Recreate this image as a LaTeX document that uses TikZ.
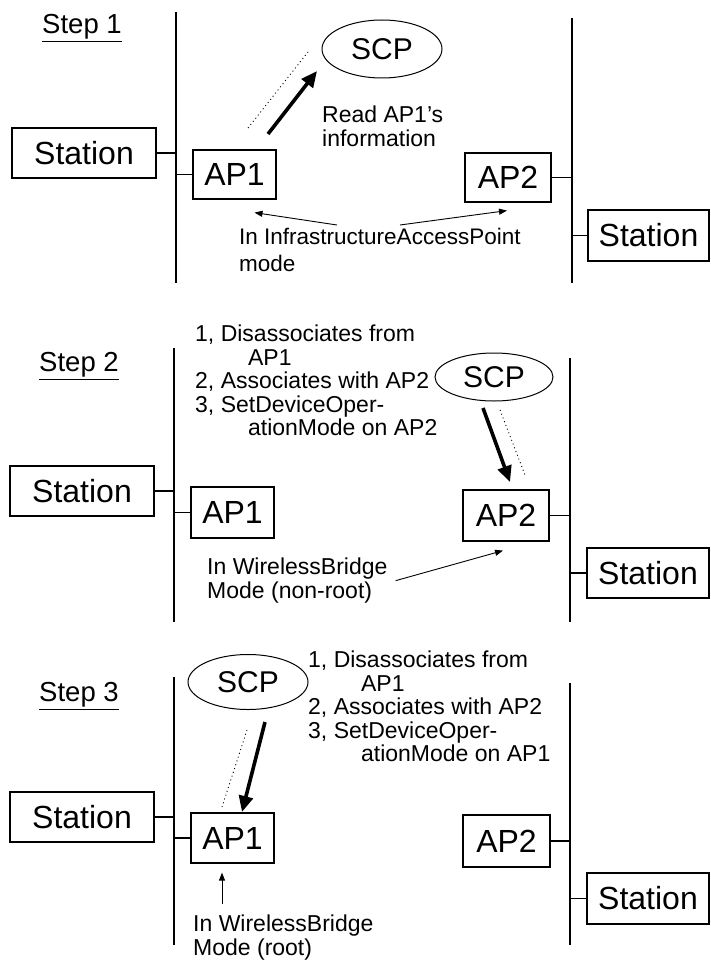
\documentclass[tikz,border=0pt]{standalone}
\usepackage{fontspec}
\setmainfont{Liberation Sans}
\usetikzlibrary{shapes.geometric,arrows.meta}

\tikzset{
  unit/.style={draw, line width=1.2pt, inner sep=0pt, font=\fontsize{32}{32}\selectfont},
  scp/.style={draw, ellipse, line width=1pt, inner sep=0pt, font=\fontsize{30}{30}\selectfont},
  note/.style={align=left, anchor=north west, inner sep=0pt, font=\fontsize{23}{23.5}\selectfont},
  steplabel/.style={inner sep=0pt, font=\fontsize{27.5}{27.5}\selectfont},
  bus/.style={line width=1.3pt},
  call/.style={-{Triangle[length=16pt,width=14pt]}, line width=3.6pt},
  trace/.style={line width=0.9pt, dash pattern=on 1pt off 3pt},
  pointer/.style={-{Triangle[length=8pt,width=6pt]}, line width=0.9pt}
}
\newcommand{\steptitle}[1]{\underline{#1}}

\begin{document}
\begin{tikzpicture}[x=1pt, y=-1pt]
  \useasboundingbox (0,0) rectangle (711,963);

  % Step 1
  \node[steplabel] (step1) at (82,28) {\steptitle{Step 1}};
  \draw[bus] (176,12) coordinate (busA1) -- (176,283);
  \draw[bus] (572,18) coordinate (busB1) -- (572,283);

  \node[unit, minimum width=144pt, minimum height=50pt] (sta1) at (84,153) {Station};
  \node[unit, minimum width=83pt, minimum height=49pt] (ap1a) at (234.5,174.5) {AP1};
  \node[unit, minimum width=86pt, minimum height=49pt] (ap2a) at (508,177.5) {AP2};
  \node[unit, minimum width=121pt, minimum height=51pt] (sta2a) at (648.5,235.5) {Station};
  \node[scp, minimum width=120pt, minimum height=58pt] (scp1) at (382,49) {SCP};

  \draw[bus] (sta1.east) -- (sta1.east -| busA1);
  \draw[bus] (ap1a.west) -- (ap1a.west -| busA1);
  \draw[bus] (ap2a.east) -- (ap2a.east -| busB1);
  \draw[bus] (sta2a.west) -- (sta2a.west -| busB1);

  \node[note] (read1) at (322,106) {Read AP1’s\\information};
  \node[note, font=\fontsize{22.5}{27}\selectfont] (mode1) at (239,228) {In InfrastructureAccessPoint\\mode};

  \coordinate (r1from) at (268,134);
  \coordinate (r1to) at (317,71);
  \draw[trace] (248,128) coordinate (t1from) -- (308,52) coordinate (t1to);
  \draw[call] (r1from) -- (r1to);
  \coordinate (m1L) at (337,225);
  \coordinate (m1R) at (400,225);
  \draw[pointer] (m1L) -- ([shift={(20,13)}]ap1a.south);
  \draw[pointer] (m1R) -- ([shift={(-1,8)}]ap2a.south);

  % Step 2
  \node[steplabel] (step2) at (79,366) {\steptitle{Step 2}};
  \draw[bus] (174,348) coordinate (busA2) -- (174,622);
  \draw[bus] (570,358) coordinate (busB2) -- (570,622);

  \node[unit, minimum width=144pt, minimum height=50pt] (sta2) at (82,491) {Station};
  \node[unit, minimum width=83pt, minimum height=51pt] (ap1b) at (232.5,512.5) {AP1};
  \node[unit, minimum width=86pt, minimum height=51pt] (ap2b) at (506,515.5) {AP2};
  \node[unit, minimum width=122pt, minimum height=50pt] (sta2b) at (648,573) {Station};
  \node[scp, minimum width=118pt, minimum height=48pt] (scp2) at (494,377) {SCP};

  \draw[bus] (sta2.east) -- (sta2.east -| busA2);
  \draw[bus] (ap1b.west) -- (ap1b.west -| busA2);
  \draw[bus] (ap2b.east) -- (ap2b.east -| busB2);
  \draw[bus] (sta2b.west) -- (sta2b.west -| busB2);

  \node[note] (todo2) at (195,325) {1, Disassociates from\\\hspace*{2.3em}AP1\\2, Associates with AP2\\3, SetDeviceOper-\\\hspace*{2.3em}ationMode on AP2};
  \node[note] (mode2) at (207,558) {In WirelessBridge\\Mode (non-root)};

  \draw[trace] (500,410) coordinate (t2from) -- (525,475) coordinate (t2to);
  \draw[call] (483,408) coordinate (r2from) -- (510,482) coordinate (r2to);
  \draw[pointer] ([xshift=8pt]mode2.east) -- ([shift={(-3,9)}]ap2b.south);

  % Step 3
  \node[steplabel] (step3) at (79,696) {\steptitle{Step 3}};
  \draw[bus] (174,677) coordinate (busA3) -- (174,945);
  \draw[bus] (570,683) coordinate (busB3) -- (570,945);

  \node[unit, minimum width=144pt, minimum height=50pt] (sta3) at (82,817) {Station};
  \node[unit, minimum width=83pt, minimum height=50pt] (ap1c) at (232.5,838) {AP1};
  \node[unit, minimum width=87pt, minimum height=52pt] (ap2c) at (506.5,841) {AP2};
  \node[unit, minimum width=122pt, minimum height=51pt] (sta3b) at (648,898.5) {Station};
  \node[scp, minimum width=120pt, minimum height=55pt] (scp3) at (248,682) {SCP};

  \draw[bus] (sta3.east) -- (sta3.east -| busA3);
  \draw[bus] (ap1c.west) -- (ap1c.west -| busA3);
  \draw[bus] (ap2c.east) -- (ap2c.east -| busB3);
  \draw[bus] (sta3b.west) -- (sta3b.west -| busB3);

  \node[note] (todo3) at (308,651) {1, Disassociates from\\\hspace*{2.3em}AP1\\2, Associates with AP2\\3, SetDeviceOper-\\\hspace*{2.3em}ationMode on AP1};
  \node[note] (mode3) at (193,915) {In WirelessBridge\\Mode (root)};

  \draw[trace] (247,730) coordinate (t3from) -- (222,807) coordinate (t3to);
  \draw[call] (265,722) coordinate (r3from) -- (242,812) coordinate (r3to);
  \draw[pointer] ([shift={(-10.5,40)}]ap1c.south) -- ([shift={(-10.5,9)}]ap1c.south);
\end{tikzpicture}
\end{document}
